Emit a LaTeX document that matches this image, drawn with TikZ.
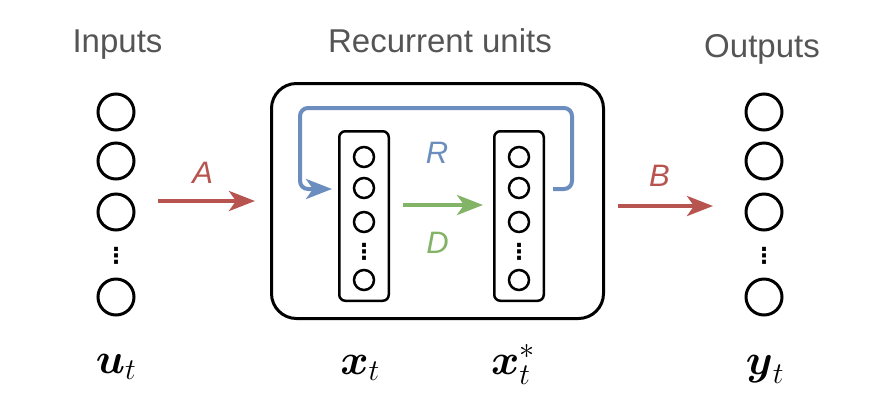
\RequirePackage{fix-cm}
\documentclass[tikz,border=0pt]{standalone}
\usepackage{amsmath, amssymb}
\usepackage{fontspec}
\usepackage{tikz}
\usetikzlibrary{arrows.meta, positioning}
\newfontfamily\headfont{Liberation Sans}
\newfontfamily\dotsfont{DejaVu Sans}

\definecolor{headgray}{HTML}{555555}
\definecolor{mapred}{HTML}{B85450}
\definecolor{loopblue}{HTML}{6C8EBF}
\definecolor{stepgreen}{HTML}{82B366}

\tikzset{
  unit/.style={circle, draw, line width=3pt, minimum size=36pt, inner sep=0pt},
  smallunit/.style={circle, draw, line width=2.5pt, minimum size=20pt, inner sep=0pt},
  layerbox/.style={draw, line width=2.5pt, rounded corners=6pt, minimum width=49.5pt, minimum height=169.5pt},
  vdotsnode/.style={font=\dotsfont\bfseries\fontsize{22}{22}\selectfont, inner sep=0pt},
  head/.style={font=\headfont\fontsize{33}{40}\selectfont, text=headgray, anchor=base, inner sep=0pt},
  mathlabel/.style={font=\fontsize{43}{50}\selectfont, anchor=base, inner sep=0pt},
  maplabel/.style={font=\headfont\itshape\fontsize{31}{36}\selectfont, inner sep=0pt},
  maparrow/.style={line width=4pt, -{Stealth[length=26pt, width=20pt, inset=7pt]}},
}

\begin{document}
\begin{tikzpicture}[x=1pt, y=-1pt]
    \useasboundingbox (0,0) rectangle (880,408);

    % inputs
    \node[head] (inhead) at (117.5,52) {Inputs};
    \node[unit] (in1) at (116,112) {};
    \node[unit] (in2) at (116,161) {};
    \node[unit] (in3) at (116,212) {};
    \node[vdotsnode] (indots) at (116,256) {⋮};
    \node[unit] (in4) at (116,297) {};
    \node[mathlabel] (ulabel) at (116,373) {$\boldsymbol{u}_t$};

    % recurrent units
    \node[head] (unitshead) at (440,52) {Recurrent units};
    \node[draw, line width=3pt, rounded corners=25pt, minimum width=332pt, minimum height=235pt] (units) at (437.5,201) {};
    \node[layerbox] (xbox) at (364,216) {};
    \node[layerbox] (xsbox) at (519,216) {};

    \node[smallunit] (x1) at (364,157) {};
    \node[smallunit] (x2) at (364,188) {};
    \node[smallunit] (x3) at (364,222) {};
    \node[vdotsnode] (xdots) at (364,252) {⋮};
    \node[smallunit] (x4) at (364,280) {};

    \node[smallunit] (xs1) at (519,157) {};
    \node[smallunit] (xs2) at (519,188) {};
    \node[smallunit] (xs3) at (519,222) {};
    \node[vdotsnode] (xsdots) at (519,252) {⋮};
    \node[smallunit] (xs4) at (519,280) {};

    \node[mathlabel] (xlabel) at (360,374) {$\boldsymbol{x}_t$};
    \node[mathlabel] (xslabel) at (513,374) {$\boldsymbol{x}_t^{*}$};

    % outputs
    \node[head] (outhead) at (762,57) {Outputs};
    \node[unit] (out1) at (764,112) {};
    \node[unit] (out2) at (764,161) {};
    \node[unit] (out3) at (764,212) {};
    \node[vdotsnode] (outdots) at (764,256) {⋮};
    \node[unit] (out4) at (764,297) {};
    \node[mathlabel] (ylabel) at (765,374) {$\boldsymbol{y}_t$};

    % maps
    \draw[maparrow, mapred, shorten <=22.5pt, shorten >=15pt] (in3.east |- units.west) -- (units.west)
        node[maplabel, midway, above=16pt] {A};
    \draw[maparrow, mapred, shorten <=13pt, shorten >=31.5pt] ([yshift=-5pt]units.east) -- ([yshift=-5pt]out3.west |- units.east)
        node[maplabel, pos=0.39, above=18pt] {B};
    \draw[maparrow, stepgreen, shorten <=13pt, shorten >=10pt] ([yshift=11pt]xbox.east) -- ([yshift=11pt]xsbox.west)
        node[maplabel, midway, below=25pt, xshift=-4pt] {D};
    \coordinate (loopcorner) at (300,108);
    \draw[maparrow, loopblue, rounded corners=8pt] ([xshift=8pt, yshift=27pt]xsbox.east) -- ++(19,0) |- (loopcorner) |- ([xshift=-6pt, yshift=27pt]xbox.west);
    \node[maplabel, text=loopblue] (rlabel) at (437,153) {R};
\end{tikzpicture}
\end{document}
